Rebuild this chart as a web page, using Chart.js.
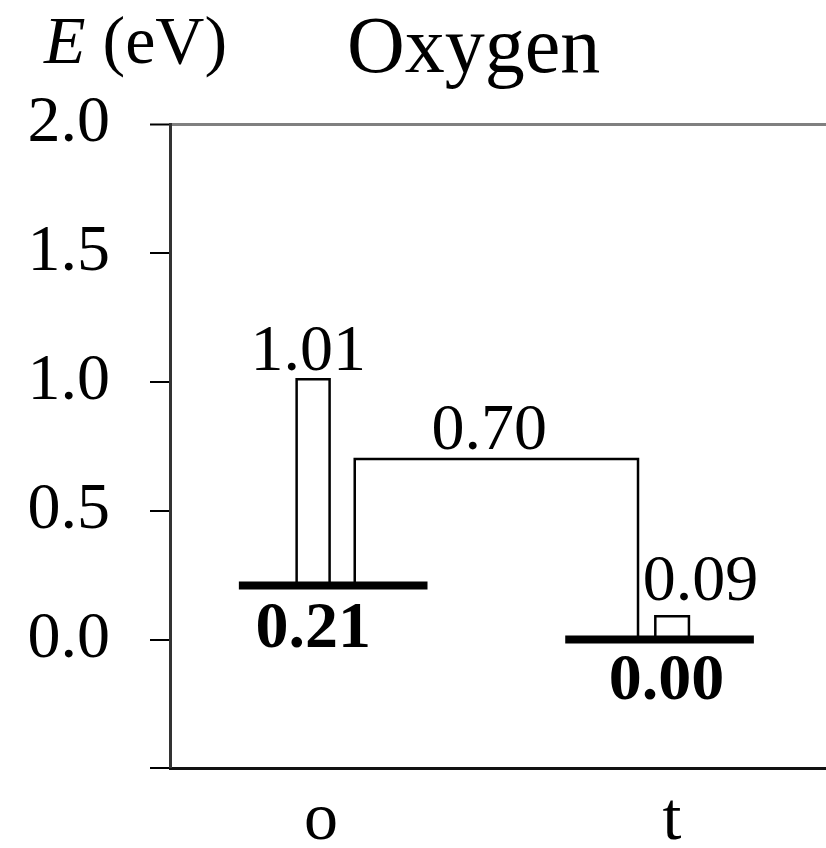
<!DOCTYPE html>
<html>
<head>
<meta charset="utf-8">
<script src="https://cdn.jsdelivr.net/npm/chart.js@4"></script>
<style>
  html, body { margin: 0; padding: 0; background: #fff; }
  #wrap { width: 826px; height: 848px; position: relative; }
</style>
</head>
<body>
<div id="wrap"><canvas id="c"></canvas></div>
<script>
// Adsorption sites and their energies (eV)
const sites = ['o', 't'];
const siteEnergy = [0.21, 0.00];
// Barrier top for the in-site step at each site
const siteBarrier = [1.01, 0.09];
// Barrier top for the hop from site o to site t
const hopBarrier = 0.70;
// Energy axis ticks
const yTicks = [-0.5, 0.0, 0.5, 1.0, 1.5, 2.0];
const yTickLabels = ['', '0.0', '0.5', '1.0', '1.5', '2.0'];

// Horizontal layout (in x-axis units, relative to each site's centre)
const GEO = {
  levelHalf: 0.289,
  barSpan: [[-0.112, -0.011], [-0.013, 0.090]],
  hopInset: 0.066,
  siteLabelShift: [-0.037, 0.038]
};

const SERIF = '"Liberation Serif", "Times New Roman", serif';

const levelSets = sites.map((s, i) => ({
  label: 'level ' + s,
  data: [{ x: i - GEO.levelHalf, y: siteEnergy[i] }, { x: i + GEO.levelHalf, y: siteEnergy[i] }],
  borderWidth: 8,
  order: 0
}));

const barSets = sites.map((s, i) => {
  const [a, b] = GEO.barSpan[i];
  return {
    label: 'barrier ' + s,
    data: [
      { x: i + a, y: siteEnergy[i] }, { x: i + a, y: siteBarrier[i] },
      { x: i + b, y: siteBarrier[i] }, { x: i + b, y: siteEnergy[i] }
    ],
    borderWidth: 2.5,
    order: 1
  };
});

const hopSet = {
  label: 'hop o-t',
  data: [
    { x: 0 + GEO.hopInset, y: siteEnergy[0] }, { x: 0 + GEO.hopInset, y: hopBarrier },
    { x: 1 - GEO.hopInset, y: hopBarrier }, { x: 1 - GEO.hopInset, y: siteEnergy[1] }
  ],
  borderWidth: 2.5,
  order: 1
};

const datasets = [...levelSets, ...barSets, hopSet].map(d => Object.assign({
  showLine: true,
  borderColor: '#000',
  backgroundColor: '#000',
  pointRadius: 0,
  pointHoverRadius: 0,
  fill: false,
  tension: 0,
  borderCapStyle: 'butt',
  borderJoinStyle: 'miter'
}, d));

// Header and value labels
const textPlugin = {
  id: 'energyText',
  afterDraw(chart) {
    const { ctx } = chart;
    const xs = chart.scales.x, ys = chart.scales.y;
    ctx.save();
    ctx.fillStyle = '#000';
    ctx.textBaseline = 'alphabetic';

    // axis quantity and title
    ctx.textAlign = 'left';
    ctx.font = 'italic 68px ' + SERIF;
    ctx.fillText('E', 44, 63);
    const eW = ctx.measureText('E').width;
    ctx.font = '68px ' + SERIF;
    ctx.fillText(' (eV)', 44 + eW, 63);
    ctx.font = '80px ' + SERIF;
    ctx.fillText('Oxygen', 347, 72);

    ctx.textAlign = 'center';
    // barrier values
    ctx.font = '66px ' + SERIF;
    ctx.fillText(siteBarrier[0].toFixed(2), xs.getPixelForValue(0) - 25, ys.getPixelForValue(siteBarrier[0]) - 9);
    ctx.fillText(siteBarrier[1].toFixed(2), xs.getPixelForValue(1) + 41, ys.getPixelForValue(siteBarrier[1]) - 16);
    ctx.fillText(hopBarrier.toFixed(2), xs.getPixelForValue(0.5) - 7, ys.getPixelForValue(hopBarrier) - 10);
    // site energies
    ctx.font = 'bold 66px ' + SERIF;
    ctx.fillText(siteEnergy[0].toFixed(2), xs.getPixelForValue(0) - 20, ys.getPixelForValue(siteEnergy[0]) + 62);
    ctx.fillText(siteEnergy[1].toFixed(2), xs.getPixelForValue(1) + 7, ys.getPixelForValue(siteEnergy[1]) + 59);
    ctx.restore();
  }
};

new Chart(document.getElementById('c'), {
  type: 'scatter',
  data: { datasets },
  plugins: [textPlugin],
  options: {
    responsive: true,
    maintainAspectRatio: false,
    animation: false,
    events: [],
    layout: { padding: { top: 124, right: 0, left: 0, bottom: 0 } },
    plugins: { legend: { display: false }, tooltip: { enabled: false }, title: { display: false } },
    scales: {
      x: {
        type: 'linear',
        min: -0.5,
        max: 1.51,
        grid: { display: false, drawTicks: false },
        border: { display: true, color: '#111', width: 3 },
        afterBuildTicks: (scale) => {
          scale.ticks = sites.map((s, i) => ({ value: i + GEO.siteLabelShift[i] }));
        },
        afterFit: (scale) => { scale.height = 77; },
        ticks: {
          autoSkip: false,
          maxRotation: 0,
          padding: 12,
          color: '#000',
          font: { family: SERIF, size: 68 },
          callback: (v, idx) => sites[idx]
        }
      },
      y: {
        type: 'linear',
        min: -0.5,
        max: 2.0,
        afterBuildTicks: (scale) => {
          scale.ticks = yTicks.map(v => ({ value: v }));
        },
        afterFit: (scale) => { scale.width = 170; },
        grid: {
          drawOnChartArea: true,
          drawTicks: true,
          tickLength: 20,
          tickWidth: 2,
          tickColor: '#000',
          color: (c) => (c.tick && c.tick.value === 2 ? '#808080' : 'rgba(0,0,0,0)'),
          lineWidth: (c) => (c.tick && c.tick.value === 2 ? 3 : 0)
        },
        border: { display: true, color: '#333', width: 3 },
        ticks: {
          autoSkip: false,
          padding: 40,
          color: '#000',
          font: { family: SERIF, size: 66 },
          callback: (v, idx) => yTickLabels[idx]
        }
      }
    }
  }
});
</script>
</body>
</html>
